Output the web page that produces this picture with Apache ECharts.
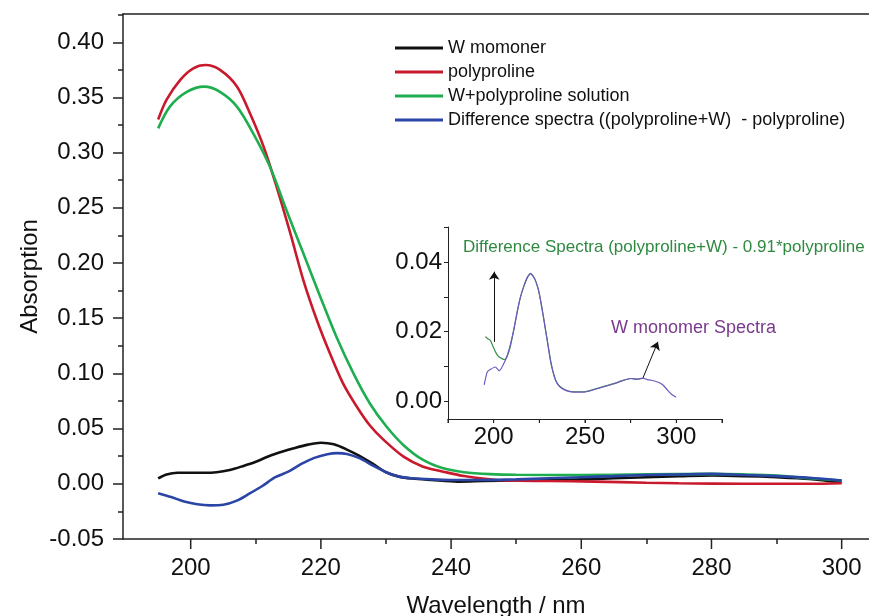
<!DOCTYPE html>
<html>
<head>
<meta charset="utf-8">
<script src="https://cdn.jsdelivr.net/npm/echarts@6/dist/echarts.min.js"></script>
<style>
html,body{margin:0;padding:0;background:#fff;}
#chart{width:869px;height:616px;}
</style>
</head>
<body>
<div id="chart"></div>
<script>
// ---- Main chart data ----
const wMonomerX = [195, 196.3, 198, 200, 202, 204, 206, 208, 210, 212, 214, 216, 218, 220, 222, 224, 226, 228, 230, 232, 234, 237, 241, 245, 250, 257, 260, 265, 270, 275, 280, 285, 290, 295, 300];
const wMonomerY = [0.005, 0.0085, 0.010, 0.010, 0.010, 0.0105, 0.0125, 0.016, 0.020, 0.025, 0.029, 0.0325, 0.0355, 0.0372, 0.0358, 0.031, 0.025, 0.018, 0.0105, 0.0065, 0.0048, 0.0035, 0.002, 0.0025, 0.003, 0.0034, 0.004, 0.005, 0.006, 0.0068, 0.0075, 0.007, 0.006, 0.0045, 0.0015];

const polyX = [195, 196.3, 198.4, 200.4, 202.3, 204.5, 207.1, 209.1, 211.2, 213.2, 215.3, 217.3, 219.4, 221.4, 223.4, 225.5, 227.5, 229.6, 232.7, 235.7, 238.8, 242, 247, 255, 262, 270, 275, 285, 295, 300];
const polyY = [0.330, 0.348, 0.366, 0.3764, 0.3794, 0.375, 0.360, 0.3357, 0.3054, 0.269, 0.227, 0.1846, 0.148, 0.118, 0.091, 0.070, 0.053, 0.040, 0.0246, 0.0155, 0.011, 0.007, 0.0035, 0.0025, 0.002, 0.001, 0.0005, 0.0, 0.0, 0.0005];

const mixX = [195, 196.8, 199.4, 202.1, 204.5, 207.1, 209.6, 212.2, 214.7, 217.3, 219.9, 222.4, 225, 227.5, 230.1, 232.7, 235.7, 238.8, 242, 246, 250, 260, 270, 280, 285, 290, 295, 300];
const mixY = [0.322, 0.3417, 0.355, 0.3598, 0.355, 0.3417, 0.3175, 0.287, 0.248, 0.2088, 0.1695, 0.133, 0.100, 0.073, 0.0517, 0.035, 0.0216, 0.014, 0.0105, 0.0088, 0.0082, 0.008, 0.0085, 0.009, 0.0085, 0.0075, 0.005, 0.003];

const diffX = [195, 197, 199, 201, 203, 205, 207, 209, 211, 213, 215, 217, 219, 221, 222.5, 224, 226, 228, 230, 232, 234, 237, 240, 245, 250, 255, 260, 265, 270, 275, 280, 285, 290, 295, 300];
const diffY = [-0.0085, -0.012, -0.016, -0.0185, -0.0195, -0.019, -0.0155, -0.009, -0.002, 0.006, 0.011, 0.018, 0.0235, 0.0268, 0.0278, 0.027, 0.023, 0.0165, 0.0105, 0.0065, 0.005, 0.004, 0.0035, 0.0035, 0.004, 0.005, 0.006, 0.007, 0.008, 0.0085, 0.009, 0.008, 0.007, 0.0055, 0.003];

// ---- Inset data ----
const insetMonoX = [194.8, 196.5, 198.1, 200.9, 203, 206.4, 208.5, 211, 213, 214.7, 216.5, 218.4, 220.2, 221.5, 223, 224.5, 225.6, 227, 228.4, 229.8, 231.1, 232.5, 233.9, 235.7, 237.6, 240.5, 243.9, 249.4, 256.8, 262, 266, 270.5, 275.2, 278.5, 281.6, 284, 286.2, 289.8, 292.5, 295.3, 297.5, 299.9];
const insetMonoY = [0.0048, 0.0085, 0.0092, 0.0099, 0.0088, 0.0118, 0.015, 0.0205, 0.026, 0.030, 0.033, 0.0355, 0.0367, 0.036, 0.0345, 0.032, 0.0292, 0.025, 0.0205, 0.016, 0.0118, 0.0085, 0.0061, 0.0045, 0.0037, 0.003, 0.0027, 0.0027, 0.0037, 0.0045, 0.0051, 0.006, 0.0066, 0.0064, 0.0067, 0.0063, 0.0061, 0.0056, 0.0048, 0.0032, 0.002, 0.0012];

const insetDiffX = [195.4, 196.8, 198.1, 199.5, 200.9, 202.5, 204.5, 206, 207.3, 209, 211, 213, 214.7, 216.5, 218.4, 220.2, 221.5, 223, 224.5, 225.6, 227, 228.4, 229.8, 231.1, 232.5, 233.9, 235.7, 237.6, 240.5, 243.9, 249.4, 256.8, 262, 266, 270.5, 275.2, 278.5, 281.6];
const insetDiffY = [0.0186, 0.018, 0.0176, 0.016, 0.0143, 0.013, 0.0123, 0.012, 0.0128, 0.0155, 0.0205, 0.026, 0.030, 0.033, 0.0355, 0.0366, 0.036, 0.0345, 0.032, 0.0292, 0.025, 0.0205, 0.016, 0.0118, 0.0085, 0.0062, 0.0046, 0.0038, 0.0031, 0.0028, 0.0028, 0.0038, 0.0046, 0.0052, 0.006, 0.0066, 0.0064, 0.0066];

// ---- Tick values ----
const xMajorTicks = [200, 220, 240, 260, 280, 300];
const xMinorTicks = [210, 230, 250, 270, 290];
const yMajorTicks = [-0.05, 0, 0.05, 0.10, 0.15, 0.20, 0.25, 0.30, 0.35, 0.40];
const yMinorTicks = [-0.025, 0.025, 0.075, 0.125, 0.175, 0.225, 0.275, 0.325, 0.375, 0.425];
const insetXTicks = [175, 200, 225, 250, 275, 300, 325];
const insetXLabels = [200, 250, 300];
const insetYTicks = [0, 0.01, 0.02, 0.03, 0.04, 0.05];
const insetYLabels = [0, 0.02, 0.04];

const seriesNames = ['W momoner', 'polyproline', 'W+polyproline solution', 'Difference spectra ((polyproline+W)  - polyproline)'];

function zip(xs, ys) { return xs.map((x, i) => [x, ys[i]]); }

const FONT = "'Liberation Sans', Arial, sans-serif";
const AX = '#222';
const MAIN_X = {min: 189.6, max: 304.2};
const MAIN_Y = {min: -0.05, max: 0.4256};
const INS_X = {min: 175, max: 325};
const INS_Y = {min: -0.005, max: 0.05};

const chart = echarts.init(document.getElementById('chart'), null, {renderer: 'canvas'});

const mainLine = (name, xs, ys, color) => ({
  name: name, type: 'line', xAxisIndex: 0, yAxisIndex: 0,
  data: zip(xs, ys), showSymbol: false, symbol: 'none', smooth: 0.3,
  lineStyle: {color: color, width: 2.6}, itemStyle: {color: color},
  animation: false, z: 3
});

// axis that only draws ticks; the range is shifted to start at 0 (same pixel mapping)
function tickAxis(grid, pos, range, values, len, width) {
  return {
    gridIndex: grid, type: 'value', position: pos,
    min: 0, max: range.max - range.min,
    axisLine: {show: false, onZero: false},
    axisTick: {show: true, inside: false, customValues: values.map(v => v - range.min), length: len,
      lineStyle: {color: AX, width: width}},
    axisLabel: {show: false}, splitLine: {show: false}
  };
}

const textGraphics = [
  {
    id: 't1', type: 'text', left: 463, top: 239, silent: true,
    style: {text: 'Difference Spectra (polyproline+W) - 0.91*polyproline', fontSize: 17,
      fontFamily: FONT, fill: '#2e8a40'}
  },
  {
    id: 't2', type: 'text', left: 611, top: 319, silent: true,
    style: {text: 'W monomer Spectra', fontSize: 18, fontFamily: FONT, fill: '#7a3a8c'}
  }
];

chart.setOption({
  animation: false,
  textStyle: {fontFamily: FONT},
  grid: [
    {left: 123, top: 14, width: 746, height: 525, containLabel: false, outerBoundsMode: 'none'},
    {left: 448, top: 227, width: 274, height: 192, containLabel: false, outerBoundsMode: 'none'}
  ],
  legend: {
    data: seriesNames,
    orient: 'vertical', left: 395, top: 39, padding: 0,
    icon: 'rect',
    itemWidth: 48, itemHeight: 3, itemGap: 6,
    textStyle: {fontSize: 18, color: '#111', fontFamily: FONT, lineHeight: 18},
    selectedMode: false
  },
  xAxis: [
    Object.assign({
      gridIndex: 0, type: 'value', position: 'bottom',
      axisLine: {show: true, onZero: false, lineStyle: {color: AX, width: 1.5}},
      axisTick: {show: false},
      axisLabel: {show: true, customValues: xMajorTicks, margin: 17, fontSize: 24, color: '#111', fontFamily: FONT},
      splitLine: {show: false},
      name: 'Wavelength / nm', nameLocation: 'middle', nameGap: 55,
      nameTextStyle: {fontSize: 24, color: '#111', fontFamily: FONT}
    }, MAIN_X),
    tickAxis(0, 'bottom', MAIN_X, xMinorTicks, 5, 1.5),
    Object.assign({
      gridIndex: 0, type: 'value', position: 'top',
      axisLine: {show: true, onZero: false, lineStyle: {color: AX, width: 1.5}},
      axisTick: {show: false}, axisLabel: {show: false}, splitLine: {show: false}
    }, MAIN_X),
    Object.assign({
      gridIndex: 1, type: 'value', position: 'bottom',
      axisLine: {show: true, onZero: false, lineStyle: {color: AX, width: 1}},
      axisTick: {show: false},
      axisLabel: {show: true, customValues: insetXLabels, margin: 6, fontSize: 24, color: '#111', fontFamily: FONT},
      splitLine: {show: false}
    }, INS_X),
    tickAxis(1, 'bottom', INS_X, insetXTicks, 4, 1)
  ],
  yAxis: [
    Object.assign({
      gridIndex: 0, type: 'value', position: 'left',
      axisLine: {show: true, onZero: false, lineStyle: {color: AX, width: 1.5}},
      axisTick: {show: false},
      axisLabel: {show: true, customValues: yMajorTicks, margin: 19, fontSize: 24, color: '#111', fontFamily: FONT,
        formatter: v => v.toFixed(2)},
      splitLine: {show: false},
      name: 'Absorption', nameLocation: 'middle', nameGap: 81, nameRotate: 90, nameMoveOverlap: false,
      nameTextStyle: {fontSize: 24, color: '#111', fontFamily: FONT}
    }, MAIN_Y),
    tickAxis(0, 'left', MAIN_Y, yMajorTicks, 10, 1.5),
    tickAxis(0, 'left', MAIN_Y, yMinorTicks, 5, 1.5),
    Object.assign({
      gridIndex: 1, type: 'value', position: 'left',
      axisLine: {show: true, onZero: false, lineStyle: {color: AX, width: 1}},
      axisTick: {show: false},
      axisLabel: {show: true, customValues: insetYLabels, margin: 6, fontSize: 24, color: '#111', fontFamily: FONT,
        formatter: v => v.toFixed(2)},
      splitLine: {show: false}
    }, INS_Y),
    tickAxis(1, 'left', INS_Y, insetYTicks, 4, 1)
  ],
  series: [
    mainLine(seriesNames[0], wMonomerX, wMonomerY, '#111111'),
    mainLine(seriesNames[1], polyX, polyY, '#c81a2c'),
    mainLine(seriesNames[2], mixX, mixY, '#1fae4f'),
    mainLine(seriesNames[3], diffX, diffY, '#2b45a6'),
    {
      name: 'insetDiff', type: 'line', xAxisIndex: 3, yAxisIndex: 3,
      data: zip(insetDiffX, insetDiffY), symbol: 'none', smooth: 0.2,
      lineStyle: {color: '#3c8f4c', width: 1.2}, animation: false, z: 4
    },
    {
      name: 'insetMono', type: 'line', xAxisIndex: 3, yAxisIndex: 3,
      data: zip(insetMonoX, insetMonoY), symbol: 'none', smooth: 0.2,
      lineStyle: {color: '#6f58c0', width: 1.2}, animation: false, z: 5,
      markLine: {
        silent: true, symbol: ['none', 'arrow'], symbolSize: 8,
        label: {show: false},
        lineStyle: {color: '#111', width: 1, type: 'solid'},
        data: [
          [{coord: [200.3, 0.0171]}, {coord: [200.3, 0.0372]}],
          [{coord: [281.6, 0.0066]}, {coord: [289.9, 0.0171]}]
        ]
      }
    }
  ],
  graphic: textGraphics
});

// Major x ticks drawn as axis decorations at positions given by the axis scale
const tickGraphics = [];
const mainBase = chart.convertToPixel({yAxisIndex: 0}, MAIN_Y.min);
xMajorTicks.forEach((v, i) => {
  const px = chart.convertToPixel({xAxisIndex: 0}, v);
  tickGraphics.push({
    id: 'mt' + i, type: 'line', silent: true, z: 100,
    shape: {x1: px, y1: mainBase, x2: px, y2: mainBase + 10},
    style: {stroke: AX, lineWidth: 1.5}
  });
});
const insBase = chart.convertToPixel({yAxisIndex: 3}, INS_Y.min);
insetXTicks.forEach((v, i) => {
  const px = chart.convertToPixel({xAxisIndex: 3}, v);
  tickGraphics.push({
    id: 'it' + i, type: 'line', silent: true, z: 100,
    shape: {x1: px, y1: insBase, x2: px, y2: insBase + 4},
    style: {stroke: AX, lineWidth: 1}
  });
});
chart.setOption({graphic: textGraphics.concat(tickGraphics)});
</script>
</body>
</html>
